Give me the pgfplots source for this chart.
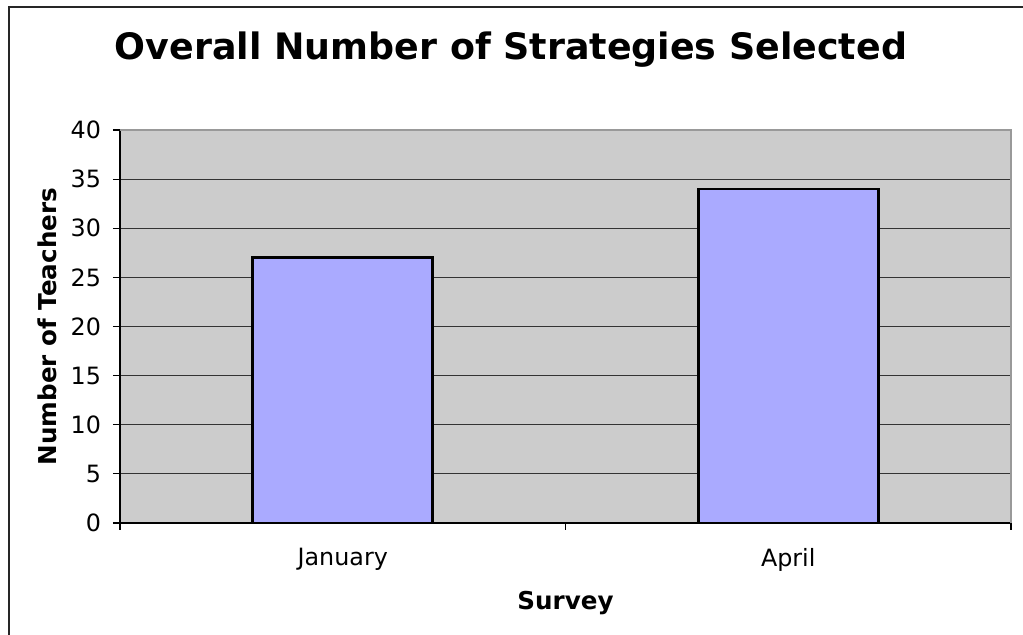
\documentclass[border=0pt]{standalone}
\usepackage{pgfplots}
\pgfplotsset{compat=1.18}
\usepackage{fontspec}
\setmainfont{DejaVu Sans}
\definecolor{plotgray}{HTML}{CCCCCC}
\definecolor{barblue}{HTML}{AAAAFF}
\definecolor{bordergray}{HTML}{999999}
\begin{document}
\begin{tikzpicture}
\useasboundingbox (0,0) rectangle (511.5pt,317.5pt);
\draw[line width=1.3pt,black!85] (4.5pt,0pt) -- (4.5pt,314pt) -- (511.5pt,314pt);
\node[font=\fontsize{18.2}{21}\selectfont\bfseries] at (255.5pt,292.5pt) {Overall Number of Strategies Selected};
\begin{axis}[
  at={(60pt,56pt)}, anchor=south west,
  scale only axis, width=445.5pt, height=196.5pt,
  xmin=0, xmax=2, ymin=0, ymax=40,
  ytick={0,5,...,40},
  axis background/.style={fill=plotgray},
  axis x line*=bottom, axis y line*=left,
  axis line style={-, black, line width=0.8pt},
  ymajorgrids, grid style={black!80, line width=0.6pt},
  tick align=outside, major tick length=3.5pt,
  tick style={black, line width=0.6pt},
  xtick={0,1,2}, xticklabels={},
  extra x ticks={0.5,1.5}, extra x tick labels={January,April},
  extra x tick style={major tick length=0pt, grid=none, xticklabel style={yshift=-9pt}},
  ticklabel style={font=\fontsize{11.9}{14}\selectfont},
  yticklabel style={xshift=-2.5pt},
  /pgf/number format/assume math mode=true,
  xlabel={Survey}, ylabel={Number of Teachers},
  label style={font=\fontsize{12.3}{14}\selectfont\bfseries},
  xlabel style={at={([yshift=-40pt]axis description cs:0.5,0)}, anchor=center},
  ylabel style={at={([xshift=-36.5pt]axis description cs:0,0.5)}, anchor=center},
  clip=false,
]
\addplot[ybar, bar width=0.404, fill=barblue, draw=black, line width=1.4pt] coordinates {(0.5,27) (1.5,34)};
\draw[bordergray, line width=1pt] (rel axis cs:0,1) -- (rel axis cs:1,1) -- (rel axis cs:1,0);
\end{axis}
\end{tikzpicture}
\end{document}
